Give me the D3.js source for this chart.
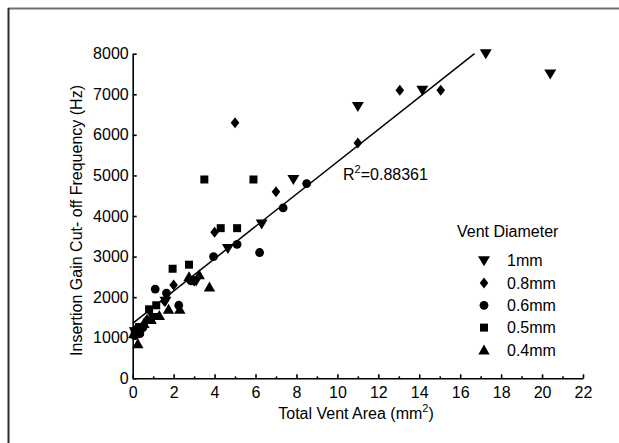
<!DOCTYPE html>
<html>
<head>
<meta charset="utf-8">
<script src="https://cdn.jsdelivr.net/npm/d3@7"></script>
<style>
  body { margin: 0; background: #fff; }
  text { font-family: "Liberation Sans", Arial, sans-serif; }
</style>
</head>
<body>
<script>
// each series is a list of points (total vent area mm^2, cut-off frequency Hz)
var vent1mm = [
  [17.25, 8000], [20.4, 7500], [11.0, 6700], [14.15, 7100], [7.85, 4900],
  [6.3, 3800], [4.65, 3200], [3.1, 2400], [1.6, 1900], [1.0, 1500],
  [0.4, 1250], [0.1, 1150]
];
var vent08mm = [
  [5.0, 6300], [13.05, 7100], [15.05, 7100], [11.0, 5800], [7.0, 4600],
  [4.0, 3600], [2.0, 2300], [3.0, 2400], [1.55, 1900], [0.7, 1450],
  [0.5, 1300], [0.15, 1200]
];
var vent06mm = [
  [8.5, 4800], [7.35, 4200], [6.2, 3100], [5.1, 3300], [3.95, 3000],
  [2.85, 2400], [2.25, 1800], [1.65, 2100], [1.1, 2200], [0.5, 1250],
  [0.35, 1100], [0.1, 1050]
];
var vent05mm = [
  [3.5, 4900], [5.9, 4900], [4.3, 3700], [5.1, 3700], [2.75, 2800],
  [1.95, 2700], [1.15, 1800], [0.8, 1700], [0.3, 1250], [0.1, 1150]
];
var vent04mm = [
  [3.75, 2250], [2.75, 2500], [3.25, 2550], [2.3, 1700], [1.75, 1700],
  [1.3, 1550], [0.9, 1450], [0.55, 1350], [0.25, 850], [0.05, 1100]
];
// fitted line end points
var fitLine = [[0, 1355], [16.7, 8000]];
var rSquared = "0.88361";

var legendLabels = ["1mm", "0.8mm", "0.6mm", "0.5mm", "0.4mm"];
var xTicks = [0, 2, 4, 6, 8, 10, 12, 14, 16, 18, 20, 22];
var xMinorTicks = [1, 3, 5, 7, 9, 11, 13, 15, 17, 19, 21];
var yTicks = [0, 1000, 2000, 3000, 4000, 5000, 6000, 7000, 8000];

// marker shapes
var shapes = {
  down: 'M-6,-4.5L6,-4.5L0,5.5Z',
  diamond: 'M0,-5.5L4.3,0L0,5.5L-4.3,0Z',
  circle: 'M4.4,0A4.4,4.4 0 1,1 -4.4,0A4.4,4.4 0 1,1 4.4,0Z',
  square: 'M-4,-4L4,-4L4,4L-4,4Z',
  up: 'M-5.7,4.5L5.7,4.5L0,-5.5Z'
};
var series = [
  {data: vent1mm, shape: 'down'},
  {data: vent08mm, shape: 'diamond'},
  {data: vent06mm, shape: 'circle'},
  {data: vent05mm, shape: 'square'},
  {data: vent04mm, shape: 'up'}
];

var width = 619, height = 443;
var plot = {left: 132.7, right: 583, top: 53.7, bottom: 378.3};

var svg = d3.select('body').append('svg')
    .attr('width', width)
    .attr('height', height);

// frame (only top and left edges are visible)
svg.append('line')
    .attr('x1', 8).attr('x2', width).attr('y1', 8.5).attr('y2', 8.5)
    .attr('stroke', '#707070').attr('stroke-width', 2);
svg.append('line')
    .attr('x1', 8.5).attr('x2', 8.5).attr('y1', 8).attr('y2', height)
    .attr('stroke', '#2a2a2a').attr('stroke-width', 2);

var xScale = d3.scaleLinear().domain([0, 22]).range([plot.left, plot.right]);
var yScale = d3.scaleLinear().domain([0, 8000]).range([plot.bottom, plot.top]);

// x axis, ticks pointing inward
var xAxis = svg.append('g')
    .attr('transform', `translate(0, ${plot.bottom})`)
    .call(d3.axisBottom(xScale).tickValues(xTicks).tickSize(-4)
      .tickSizeOuter(0).tickPadding(8).tickFormat(d3.format('d')));
svg.append('g')
    .attr('transform', `translate(0, ${plot.bottom})`)
    .call(d3.axisBottom(xScale).tickValues(xMinorTicks).tickSize(-2)
      .tickSizeOuter(0).tickFormat(''))
    .select('.domain').remove();

var yAxis = svg.append('g')
    .attr('transform', `translate(${plot.left}, 0)`)
    .call(d3.axisLeft(yScale).tickValues(yTicks).tickSize(-4)
      .tickSizeOuter(0).tickPadding(4).tickFormat(d3.format('d')));

svg.selectAll('.domain, .tick line')
    .attr('stroke', '#000').attr('stroke-width', 1.6);
svg.selectAll('.tick text')
    .attr('fill', '#000')
    .style('font-size', '16px')
    .style('font-family', '"Liberation Sans", Arial, sans-serif');

// fit line
svg.append('line')
    .attr('x1', xScale(fitLine[0][0])).attr('y1', yScale(fitLine[0][1]))
    .attr('x2', xScale(fitLine[1][0])).attr('y2', yScale(fitLine[1][1]))
    .attr('stroke', '#000').attr('stroke-width', 1.5);

// points
series.forEach(function(s) {
  svg.append('g').selectAll('path')
      .data(s.data)
      .enter()
    .append('path')
      .attr('d', shapes[s.shape])
      .attr('transform', function(d) {
        return `translate(${xScale(d[0])}, ${yScale(d[1])})`;
      })
      .attr('fill', '#000');
});

// R^2 label
var r2 = svg.append('text')
    .attr('x', 343).attr('y', 180)
    .style('font-size', '16px');
r2.append('tspan').text('R');
r2.append('tspan').attr('dy', -7).style('font-size', '11px').text('2');
r2.append('tspan').attr('dy', 7).text('=' + rSquared);

// axis titles
var xTitle = svg.append('text')
    .attr('x', 356).attr('y', 419)
    .style('text-anchor', 'middle')
    .style('font-size', '16px');
xTitle.append('tspan').text('Total Vent Area (mm');
xTitle.append('tspan').attr('dy', -7).style('font-size', '11px').text('2');
xTitle.append('tspan').attr('dy', 7).text(')');

svg.append('text')
    .attr('transform', 'translate(82, 220.5) rotate(-90)')
    .style('text-anchor', 'middle')
    .style('font-size', '16px')
    .text('Insertion Gain Cut- off Frequency (Hz)');

// legend
svg.append('text')
    .attr('x', 457).attr('y', 236.5)
    .style('font-size', '16px')
    .text('Vent Diameter');

var legend = svg.append('g').selectAll('g')
    .data(series)
    .enter()
  .append('g')
    .attr('transform', function(d, i) { return `translate(484, ${260.7 + i * 22.3})`; });
legend.append('path')
    .attr('d', function(d) { return shapes[d.shape]; })
    .attr('fill', '#000');
legend.append('text')
    .attr('x', 23).attr('dy', '0.36em')
    .style('font-size', '16px')
    .text(function(d, i) { return legendLabels[i]; });
</script>
</body>
</html>
